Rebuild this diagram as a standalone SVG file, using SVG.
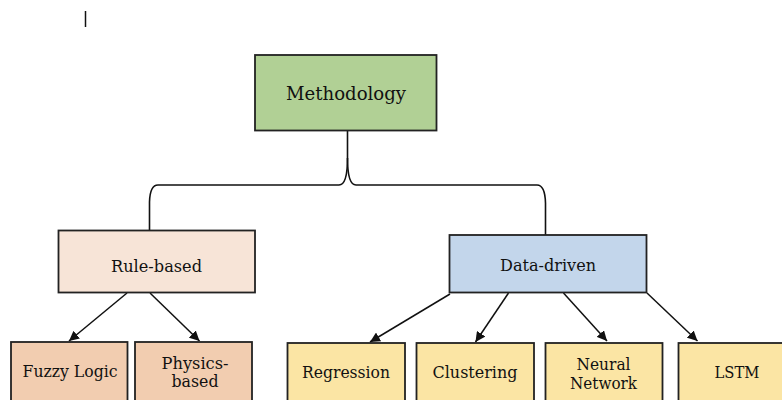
<svg xmlns="http://www.w3.org/2000/svg" width="782" height="400" viewBox="0 0 782 400">
<defs>
<marker id="ah" viewBox="0 0 10 10" refX="10" refY="5" markerWidth="10" markerHeight="10" markerUnits="userSpaceOnUse" orient="auto">
<path d="M0,0 L10,5 L0,10 z" fill="#111"/>
</marker>
<style>
.box{stroke:#222;stroke-width:1.8}
.t{font-family:"DejaVu Serif","Liberation Serif",serif;fill:#111;text-anchor:middle}
.c{fill:none;stroke:#111;stroke-width:1.6}
.a{fill:none;stroke:#111;stroke-width:1.5;marker-end:url(#ah)}
</style>
</defs>
<rect width="782" height="400" fill="#ffffff"/>
<line x1="85.5" y1="11" x2="85.5" y2="27" stroke="#111" stroke-width="1.5"/>
<g id="connectors">
<path class="c" d="M347.5,131 L347.5,158 Q347.5,185 339,185 L158,185 Q150,185 149.5,202 L149.5,231"/>
<path class="c" d="M347.5,158 Q347.5,185 356,185 L537,185 Q545,185 545.5,203 L545.5,235"/>
<path class="a" d="M127,293 L69,341"/>
<path class="a" d="M150,293 L199.5,341"/>
<path class="a" d="M450,294 L370,342"/>
<path class="a" d="M508.5,293 L475.5,342"/>
<path class="a" d="M563.5,293 L607,341"/>
<path class="a" d="M647,293 L697.5,341"/>
</g>
<g id="methodology">
<rect class="box" x="255" y="55" width="181.5" height="75.5" fill="#b1d095"/>
<text class="t" x="346" y="100" font-size="18" textLength="120" lengthAdjust="spacingAndGlyphs">Methodology</text>
</g>
<g id="rule-based">
<rect class="box" x="58.5" y="230.5" width="196.5" height="62" fill="#f7e4d7"/>
<text class="t" x="156.5" y="272" font-size="16" textLength="91" lengthAdjust="spacingAndGlyphs">Rule-based</text>
</g>
<g id="data-driven">
<rect class="box" x="449.5" y="235" width="197" height="57.5" fill="#c3d6eb"/>
<text class="t" x="548" y="270.5" font-size="16" textLength="96" lengthAdjust="spacingAndGlyphs">Data-driven</text>
</g>
<g id="fuzzy-logic">
<rect class="box" x="11" y="342" width="116.5" height="70" fill="#f2cdb0"/>
<text class="t" x="70" y="377" font-size="16" textLength="95" lengthAdjust="spacingAndGlyphs">Fuzzy Logic</text>
</g>
<g id="physics-based">
<rect class="box" x="135" y="342" width="117" height="70" fill="#f2cdb0"/>
<text class="t" x="195" y="368.5" font-size="16" textLength="67" lengthAdjust="spacingAndGlyphs">Physics-</text>
<text class="t" x="195" y="387" font-size="16" textLength="47" lengthAdjust="spacingAndGlyphs">based</text>
</g>
<g id="regression">
<rect class="box" x="287.5" y="343" width="117.5" height="70" fill="#fbe5a4"/>
<text class="t" x="346" y="378" font-size="16" textLength="88" lengthAdjust="spacingAndGlyphs">Regression</text>
</g>
<g id="clustering">
<rect class="box" x="416.5" y="343" width="117.5" height="70" fill="#fbe5a4"/>
<text class="t" x="475" y="378" font-size="16" textLength="85" lengthAdjust="spacingAndGlyphs">Clustering</text>
</g>
<g id="neural-network">
<rect class="box" x="545.5" y="343" width="117" height="70" fill="#fbe5a4"/>
<text class="t" x="603.5" y="370" font-size="16" textLength="54" lengthAdjust="spacingAndGlyphs">Neural</text>
<text class="t" x="603.5" y="388.5" font-size="16" textLength="67" lengthAdjust="spacingAndGlyphs">Network</text>
</g>
<g id="lstm">
<rect class="box" x="678.5" y="343" width="120" height="70" fill="#fbe5a4"/>
<text class="t" x="737" y="378" font-size="16" textLength="45" lengthAdjust="spacingAndGlyphs">LSTM</text>
</g>
</svg>
